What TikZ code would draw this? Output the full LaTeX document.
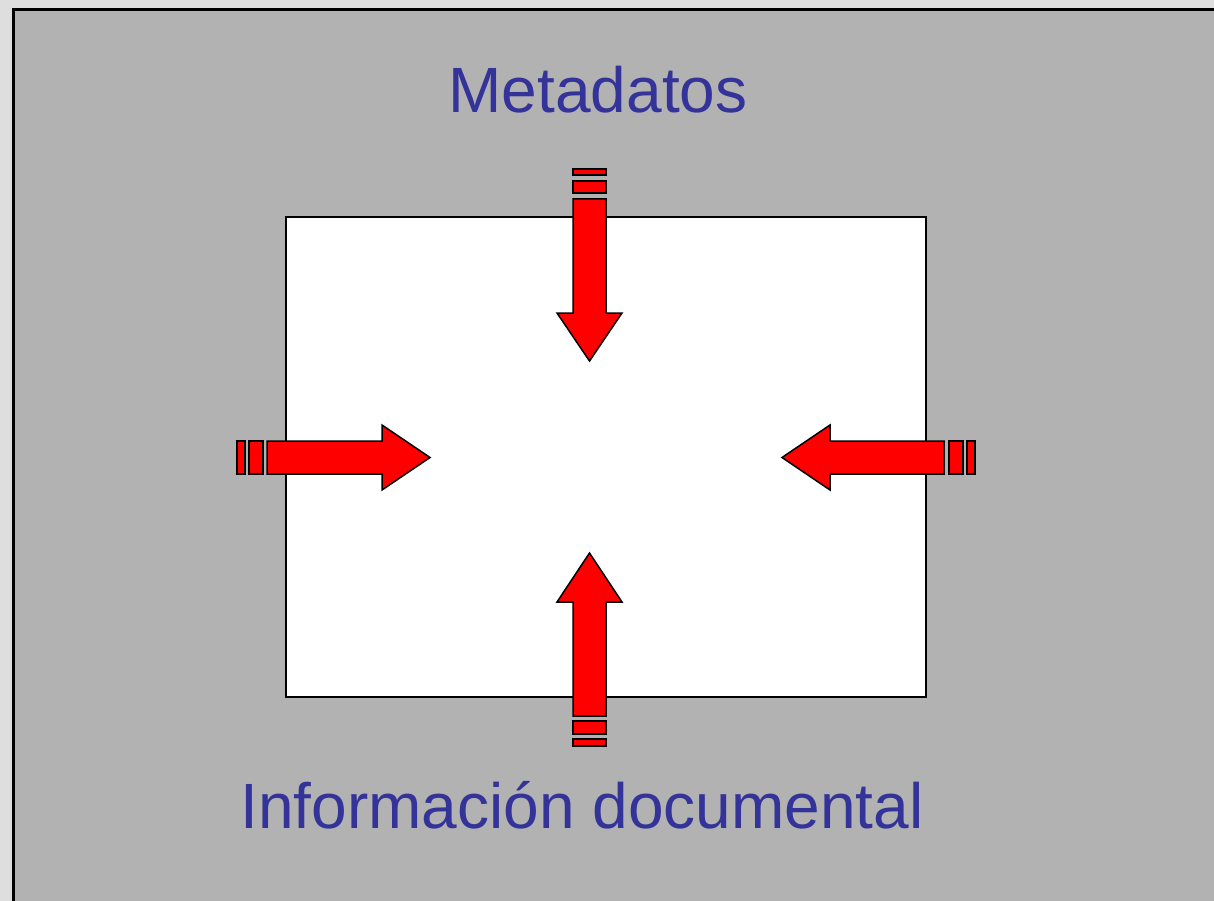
\documentclass[tikz,border=0pt]{standalone}
\usepackage{fontspec}
\setmainfont{Liberation Sans}
\usepackage{tikz}
\definecolor{pagegray}{HTML}{DEDEDE}
\definecolor{panelgray}{HTML}{B2B2B2}
\definecolor{titleblue}{HTML}{333399}
\definecolor{arrowred}{HTML}{FF0000}

\begin{document}
\begin{tikzpicture}[x=1pt, y=-1pt,
  blockarrow/.style={draw=black, line width=1.5pt, fill=arrowred, line join=miter},
  titletext/.style={text=titleblue, anchor=base, inner sep=0pt, font=\fontsize{64}{70}\selectfont}]
\useasboundingbox (0,0) rectangle (1214,901);
\clip (0,0) rectangle (1214,901);
% page and panel
\fill[pagegray] (0,0) rectangle (1214,901);
\draw[fill=panelgray, line width=2.5pt] (13.5,9.5) rectangle (1230,920);
\draw[fill=white, line width=2pt] (286,217) rectangle (926,697) ;
% titles
\node[titletext] (meta) at (598,112.5) {Metadatos};
\node[titletext] (info) at (582,828.5) {Información documental};
% top arrow
\draw[blockarrow] (573,199) -- (606,199) -- (606,313) -- (622,313) -- (589.5,361) -- (557,313) -- (573,313) -- cycle;
\draw[blockarrow] (573,169) rectangle (606,175);
\draw[blockarrow] (573,181) rectangle (606,193);
% bottom arrow
\draw[blockarrow] (573,716) -- (606,716) -- (606,602) -- (622,602) -- (589.5,553) -- (557,602) -- (573,602) -- cycle;
\draw[blockarrow] (573,721) rectangle (606,734);
\draw[blockarrow] (573,739) rectangle (606,746);
% left arrow
\draw[blockarrow] (267,441) -- (267,474) -- (382,474) -- (382,490) -- (430,457.5) -- (382,425) -- (382,441) -- cycle;
\draw[blockarrow] (237,441) rectangle (245,474);
\draw[blockarrow] (249,441) rectangle (263,474);
% right arrow
\draw[blockarrow] (944,441) -- (944,474) -- (830,474) -- (830,490) -- (782,457.5) -- (830,425) -- (830,441) -- cycle;
\draw[blockarrow] (949,441) rectangle (963,474);
\draw[blockarrow] (967,441) rectangle (975,474);
\end{tikzpicture}
\end{document}
